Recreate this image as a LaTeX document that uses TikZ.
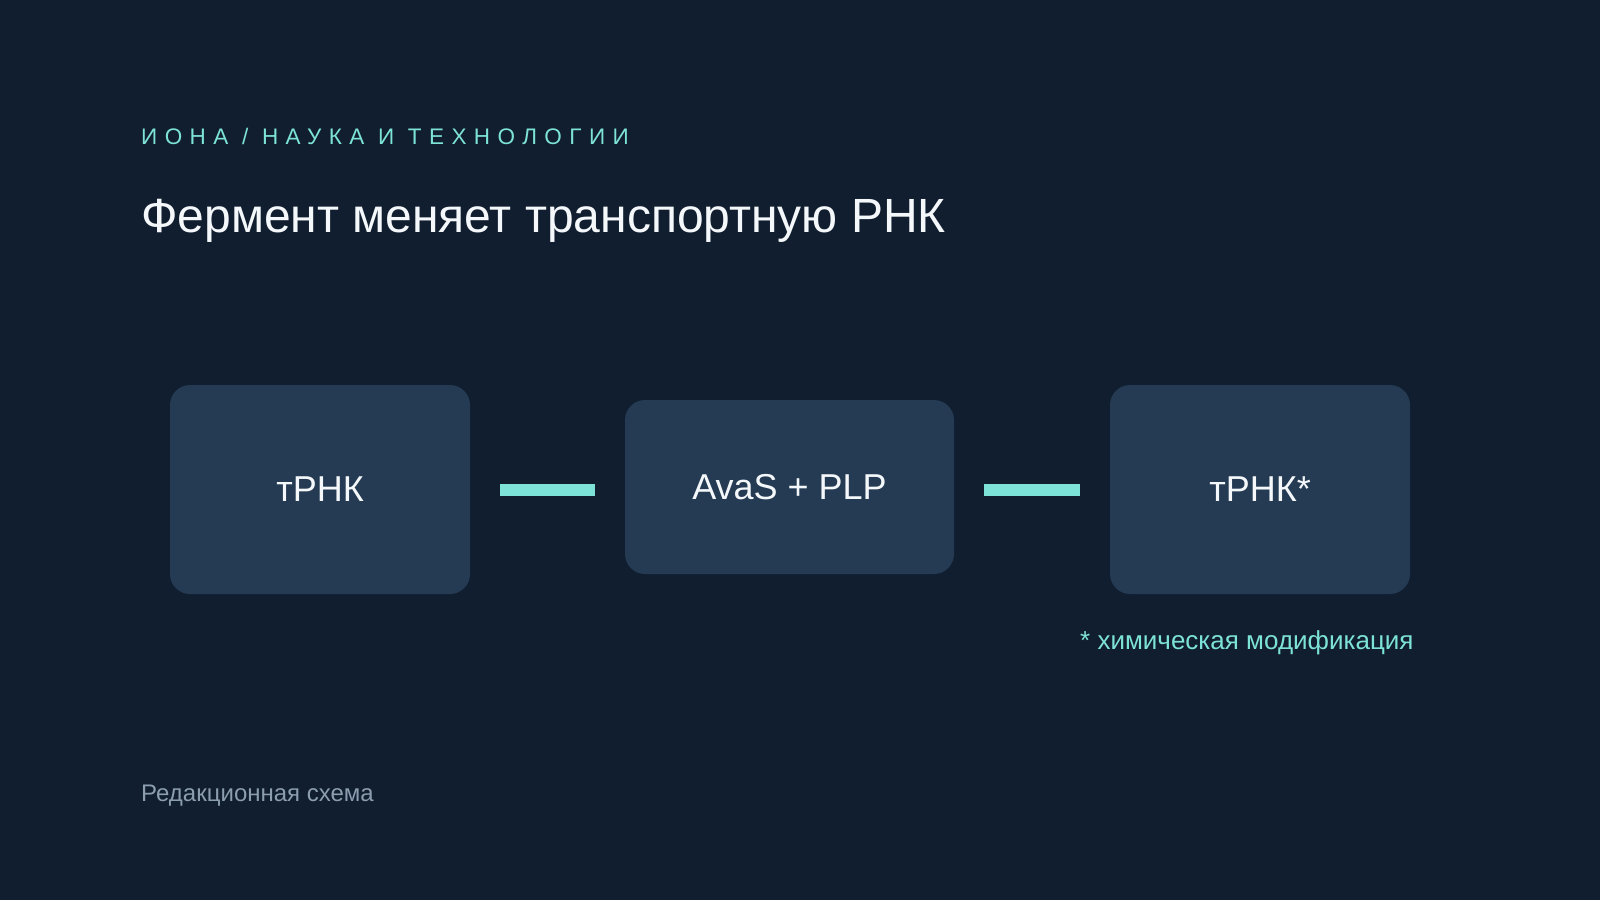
\documentclass[tikz,border=0pt]{standalone}
\usepackage{fontspec}
\setmainfont{Liberation Sans}
\usepackage{tikz}
\usetikzlibrary{arrows.meta}
\definecolor{ionabg}{HTML}{101E2F}
\definecolor{ionabox}{HTML}{243B53}
\definecolor{ionateal}{HTML}{7DE2D8}
\definecolor{ionagray}{HTML}{8C9DB0}
\definecolor{ionawhite}{HTML}{F5F8FA}
\tikzstyle{stage}=[fill = ionabox, rounded corners = 20pt, inner sep = 0pt, text = ionawhite, font = \fontsize{36}{43}\selectfont]
\tikzstyle{link}=[draw = ionateal, line width = 12pt, shorten <= 30pt, shorten >= 30pt]
\tikzstyle{caption}=[anchor = base west, inner sep = 0pt]

\begin{document}
\begin{tikzpicture}[x = 1pt, y = -1pt]

    % background
    \fill[ionabg] (0,0) rectangle (1600,900);

    % header
    \node[caption, text = ionateal, font = \fontsize{22.5}{27}\selectfont\addfontfeature{LetterSpace=33}] (kicker) at (141,144) {ИОНА / НАУКА И ТЕХНОЛОГИИ};
    \node[caption, text = ionawhite, font = \fontsize{48}{56}\selectfont] (title) at (141,232) {Фермент меняет транспортную РНК};

    % stages
    \node[stage, minimum width = 300pt, minimum height = 209pt] (trna) at (320,489.5) {тРНК};
    \node[stage, minimum width = 329pt, minimum height = 174pt] (enz) at (789.5,487) {AvaS + PLP};
    \node[stage, minimum width = 300pt, minimum height = 209pt] (mod) at (1260,489.5) {тРНК*};

    % links
    \draw[link] (trna.east) -- (trna.east -| enz.west);
    \draw[link] (enz.east |- trna.east) -- (mod.west);

    % notes
    \node[caption, text = ionateal, font = \fontsize{26}{31}\selectfont] (note) at (1080,649) {* химическая модификация};
    \node[caption, text = ionagray, font = \fontsize{24}{29}\selectfont] (source) at (141,801) {Редакционная схема};
\end{tikzpicture}
\end{document}
